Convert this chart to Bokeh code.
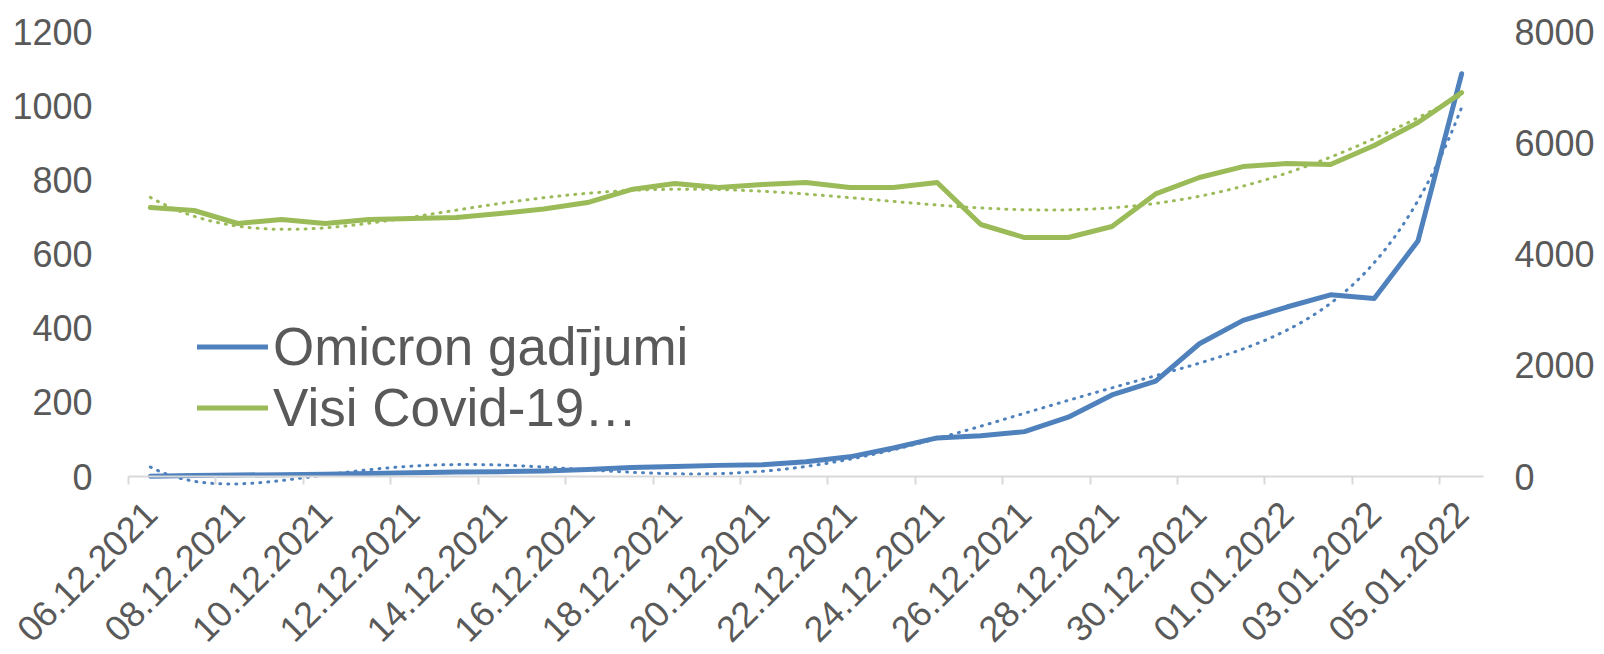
import numpy as np
from math import pi
from bokeh.plotting import figure
from bokeh.models import (Range1d, LinearAxis, FixedTicker, Legend, LegendItem)
from bokeh.embed import file_html
from bokeh.resources import INLINE

# ---------------- data ----------------
dates = ["06.12.2021", "07.12.2021", "08.12.2021", "09.12.2021", "10.12.2021",
         "11.12.2021", "12.12.2021", "13.12.2021", "14.12.2021", "15.12.2021",
         "16.12.2021", "17.12.2021", "18.12.2021", "19.12.2021", "20.12.2021",
         "21.12.2021", "22.12.2021", "23.12.2021", "24.12.2021", "25.12.2021",
         "26.12.2021", "27.12.2021", "28.12.2021", "29.12.2021", "30.12.2021",
         "31.12.2021", "01.01.2022", "02.01.2022", "03.01.2022", "04.01.2022",
         "05.01.2022"]
omicron = [1, 3, 4, 5, 6, 8, 10, 12, 13, 15, 19, 24, 27, 30, 32, 40, 53, 77,
           104, 110, 121, 160, 220, 257, 358, 421, 457, 490, 480, 635, 1086]
visi = [4836, 4782, 4548, 4620, 4548, 4620, 4638, 4656, 4728, 4810, 4925, 5159,
        5267, 5195, 5249, 5285, 5195, 5195, 5285, 4530, 4296, 4296, 4494, 5080,
        5375, 5572, 5626, 5608, 5950, 6364, 6900]
left_ticks = [0, 200, 400, 600, 800, 1000, 1200]
right_ticks = [0, 2000, 4000, 6000, 8000]
series_names = ["Omicron gadījumi", "Visi Covid-19…"]
trend_orders = [6, 5]

BLUE = "#4F81BD"
GREEN = "#9BBB59"
TXT = "#595959"
AXIS = "#D9D9D9"
FONT = "Liberation Sans"

# ---------------- geometry (pixels) ----------------
W, H = 1600, 654
XL, XR = 128, 1483           # pixel columns where the category area starts / ends
TOP, ZERO = 31, 476          # pixel rows of the top tick and of the value 0
n = len(dates)
LEFT_MAX, RIGHT_MAX = left_ticks[-1], right_ticks[-1]
xppu = (XR - XL) / n
ppu = (ZERO - TOP) / LEFT_MAX
x_start = -0.5 - XL / xppu
x_end = n - 0.5 + (W - XR) / xppu
y_end = LEFT_MAX + TOP / ppu
y_start = -(H - ZERO) / ppu

idx = np.arange(n)

p = figure(width=W, height=H, x_range=Range1d(x_start, x_end),
           y_range=Range1d(y_start, y_end), output_backend="svg", toolbar_location=None,
           x_axis_location=None, y_axis_location=None, min_border=0)
p.outline_line_color = None
p.xgrid.visible = False
p.ygrid.visible = False
p.extra_y_ranges = {"right": Range1d(y_start * RIGHT_MAX / LEFT_MAX, y_end * RIGHT_MAX / LEFT_MAX)}

def style_y(ax, ticks, standoff):
    ax.ticker = FixedTicker(ticks=ticks, minor_ticks=[])
    ax.axis_line_color = None
    ax.major_tick_line_color = None
    ax.minor_tick_line_color = None
    ax.major_tick_out = 0
    ax.major_tick_in = 0
    ax.major_label_standoff = standoff
    ax.major_label_text_font = FONT
    ax.major_label_text_font_size = "36px"
    ax.major_label_text_color = TXT

la = LinearAxis(fixed_location=-0.5)
style_y(la, left_ticks, 36)
p.add_layout(la, "left")
ra = LinearAxis(y_range_name="right", fixed_location=n - 0.5)
style_y(ra, right_ticks, 31)
p.add_layout(ra, "right")

# category axis: line, tick marks at boundaries every 2 categories, labels every 2 dates
xa = LinearAxis(fixed_location=0, bounds=(-0.5, n - 0.5))
xa.ticker = FixedTicker(ticks=idx[::2].tolist(),
                        minor_ticks=[i - 0.5 for i in range(0, n, 2)])
xa.major_label_overrides = {int(i): dates[i] for i in idx[::2]}
xa.axis_line_color = AXIS
xa.axis_line_width = 2
xa.minor_tick_line_color = AXIS
xa.minor_tick_line_width = 2
xa.minor_tick_out = 8
xa.minor_tick_in = 0
xa.major_tick_line_color = None
xa.major_tick_out = 0
xa.major_tick_in = 0
xa.major_label_orientation = pi / 4
xa.major_label_standoff = 23
xa.major_label_text_font = FONT
xa.major_label_text_font_size = "36px"
xa.major_label_text_color = TXT
p.add_layout(xa, "below")

# series
r_blue = p.line(idx, omicron, line_color=BLUE, line_width=5, line_join="round", line_cap="round")
r_green = p.line(idx, visi, line_color=GREEN, line_width=5, line_join="round", line_cap="round",
                 y_range_name="right")

# polynomial trend lines (least squares on the series)
xs = np.linspace(0, n - 1, 301)
tb = np.polyval(np.polyfit(idx, omicron, trend_orders[0]), xs)
tg = np.polyval(np.polyfit(idx, visi, trend_orders[1]), xs)
p.line(xs, tb, line_color=BLUE, line_width=3, line_dash="1 7", line_cap="round")
p.line(xs, tg, line_color=GREEN, line_width=3, line_dash="1 7", line_cap="round",
       y_range_name="right")

legend = Legend(items=[LegendItem(label=series_names[0], renderers=[r_blue]),
                       LegendItem(label=series_names[1], renderers=[r_green])],
                location=(197, H - 438), padding=0, spacing=0, margin=0,
                glyph_width=71, glyph_height=61, label_standoff=5,
                label_text_font=FONT, label_text_font_size="53px",
                label_text_color=TXT, border_line_color=None,
                background_fill_alpha=0)
p.add_layout(legend)

open("out.html", "w").write(file_html(p, INLINE))
